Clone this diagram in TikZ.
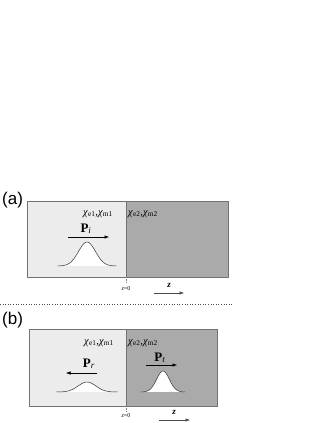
\documentclass[tikz,border=0pt]{standalone}
\usepackage{fontspec}
\setmainfont{Liberation Serif}
\newfontfamily\panelfont{Liberation Sans}
\usetikzlibrary{arrows.meta}
\newcommand{\pChiPair}[1]{\textit{χ}\textsubscript{e#1},\textit{χ}\textsubscript{m#1}}
\newcommand{\pPulse}[4]{% center, base, height, width
  \fill[white] plot[domain=#1-2.45*#4:#1+2.45*#4, samples=60] (\x,{#2-#3*exp(-((\x-#1)/#4)^2)});
  \draw[black!80, line width=0.5pt] plot[domain=#1-2.45*#4:#1+2.45*#4, samples=60] (\x,{#2-#3*exp(-((\x-#1)/#4)^2)});}
\definecolor{mediumone}{gray}{0.925}
\definecolor{mediumtwo}{gray}{0.665}
\definecolor{frameline}{gray}{0.45}

\begin{document}
\begin{tikzpicture}[x=1pt,y=-1pt,
  lbl/.style={anchor=base, inner sep=0pt, font=\fontsize{10.5}{10.5}\selectfont},
  panel/.style={anchor=base west, inner sep=0pt, font=\panelfont\fontsize{17}{17}\selectfont},
  pulsearrow/.style={-{Latex[length=4.5pt,width=3.5pt]}, line width=0.5pt},
  axisarrow/.style={-{Latex[length=4.5pt,width=3.5pt]}, line width=0.5pt, black!70}]
\useasboundingbox (0,0) rectangle (327,423);
% panel (a)
\fill[mediumone] (27,201) rectangle (126,277);
\fill[mediumtwo] (126,201) rectangle (228,277);
\draw[frameline, line width=0.6pt] (27,201) rectangle (228,277);
\draw[frameline, line width=0.6pt] (126,201) -- (126,277);
\node[panel] (labA) at (2,204) {(a)};
\node[lbl, anchor=base west] (chiAone) at (83,215) {\pChiPair{1}};
\node[lbl, anchor=base west] (chiAtwo) at (128,215) {\pChiPair{2}};
\node[lbl, font=\fontsize{13}{13}\selectfont] (Pi) at (86,232) {\textbf{P}\textsubscript{\textit{i}}};
\coordinate (PiL) at (68,237);
\coordinate (PiR) at (109,237);
\draw[pulsearrow] (PiL) -- (PiR);
\pPulse{87}{266}{24}{12}
\draw[black!50, densely dotted, line width=0.5pt] (126,277) -- (126,283);
\node[lbl, font=\fontsize{6}{6}\selectfont] (zeroA) at (126,290) {\textit{z}=0};
\node[lbl, font=\fontsize{9}{9}\selectfont] (zA) at (169,287) {\textbf{\textit{z}}};
\coordinate (zAL) at (154,293);
\coordinate (zAR) at (184,293);
\draw[axisarrow] (zAL) -- (zAR);
% separator
\draw[black!70, dotted, line width=0.6pt] (0,304) -- (232,304);
% panel (b)
\fill[mediumone] (29,329) rectangle (126,406);
\fill[mediumtwo] (126,329) rectangle (217,406);
\draw[frameline, line width=0.6pt] (29,329) rectangle (217,406);
\draw[frameline, line width=0.6pt] (126,329) -- (126,406);
\node[panel] (labB) at (2,324) {(b)};
\node[lbl, anchor=base west] (chiBone) at (84,344) {\pChiPair{1}};
\node[lbl, anchor=base west] (chiBtwo) at (128,344) {\pChiPair{2}};
\node[lbl, font=\fontsize{13}{13}\selectfont] (Pr) at (89,367) {\textbf{P}\textsubscript{\textit{r}}};
\coordinate (PrR) at (97,373);
\coordinate (PrL) at (66,373);
\draw[pulsearrow] (PrR) -- (PrL);
\pPulse{87}{392}{10}{12.5}
\node[lbl, font=\fontsize{13}{13}\selectfont] (Pt) at (160,361) {\textbf{P}\textsubscript{\textit{t}}};
\coordinate (PtL) at (146,365);
\coordinate (PtR) at (177,365);
\draw[pulsearrow] (PtL) -- (PtR);
\pPulse{163}{392}{21}{9}
\draw[black!50, densely dotted, line width=0.5pt] (126,406) -- (126,411);
\node[lbl, font=\fontsize{6}{6}\selectfont] (zeroB) at (126,417) {\textit{z}=0};
\node[lbl, font=\fontsize{9}{9}\selectfont] (zB) at (174,414) {\textbf{\textit{z}}};
\coordinate (zBL) at (159,420);
\coordinate (zBR) at (190,420);
\draw[axisarrow] (zBL) -- (zBR);
\end{tikzpicture}
\end{document}
